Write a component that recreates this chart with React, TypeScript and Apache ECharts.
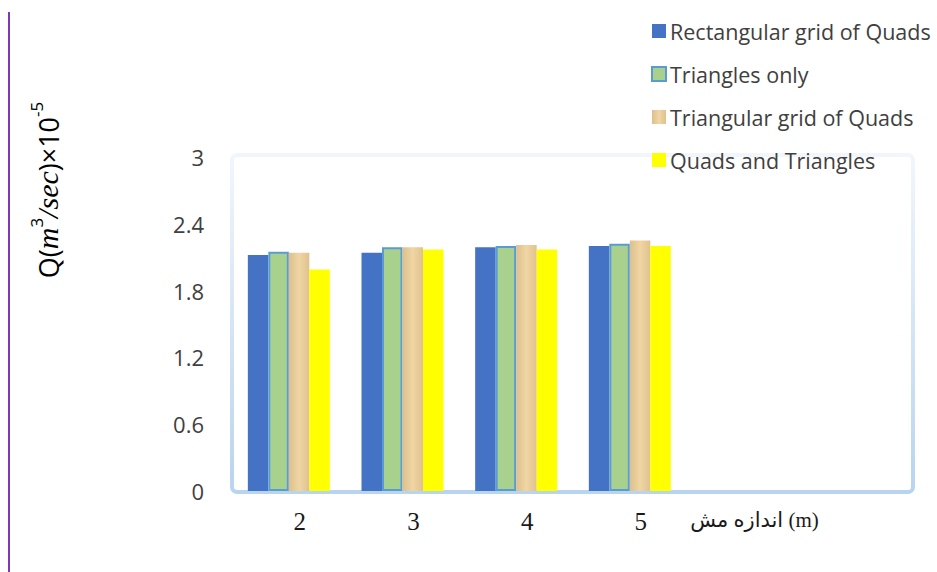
import React, { useEffect, useRef } from "react";
import * as echarts from "echarts";

const categories = ["2", "3", "4", "5", "اندازه مش (m)", ""];
const seriesNames = [
  "Rectangular grid of Quads",
  "Triangles only",
  "Triangular grid of Quads",
  "Quads and Triangles",
];
const rectQuads = [2.12, 2.14, 2.19, 2.2, null, null];
const trianglesOnly = [2.15, 2.19, 2.2, 2.22, null, null];
const triQuads = [2.14, 2.19, 2.21, 2.25, null, null];
const quadsTriangles = [1.99, 2.17, 2.17, 2.2, null, null];
const yTicks = { min: 0, max: 3, interval: 0.6 };

export default function App() {
  const ref = useRef<HTMLDivElement>(null);
  useEffect(() => {
    if (!ref.current) return;
    const chart = echarts.init(ref.current, null, { renderer: "svg" });
    const tan = new echarts.graphic.LinearGradient(0, 0, 1, 0, [
      { offset: 0, color: "#dcc08c" },
      { offset: 0.5, color: "#f0d6a4" },
      { offset: 1, color: "#dfc28e" },
    ]);
    const option: any = {
      animation: false,
      backgroundColor: "#ffffff",
      grid: { left: 232, right: 23, top: 157, bottom: 81, containLabel: false },
      legend: {
        orient: "vertical",
        left: 646,
        top: 15,
        itemWidth: 14,
        itemHeight: 14,
        itemGap: 21,
        icon: "rect",
        textStyle: {
          fontFamily: "Open Sans",
          fontSize: 21.5,
          lineHeight: 22,
          color: "#404040",
          padding: [0, 0, 0, -1],
        },
        data: seriesNames,
      },
      xAxis: {
        type: "category",
        data: categories,
        axisLine: { show: false },
        axisTick: { show: false },
        axisLabel: {
          interval: 0,
          margin: 18,
          padding: [0, 0, 0, 22],
          formatter: (v: string) => (/[\u0600-\u06ff]/.test(v) ? "{p|" + v + "}" : "{d|" + v + "}"),
          rich: {
            d: {
              fontFamily: "Liberation Serif, serif",
              fontSize: 25,
              color: "#1a1a1a",
            },
            p: {
              fontFamily: "Liberation Serif, DejaVu Sans, serif",
              fontSize: 21,
              color: "#1a1a1a",
            },
          },
        },
      },
      yAxis: {
        type: "value",
        min: yTicks.min,
        max: yTicks.max,
        interval: yTicks.interval,
        axisLine: { show: false },
        axisTick: { show: false },
        splitLine: { show: false },
        axisLabel: {
          margin: 28,
          fontFamily: "Open Sans",
          fontSize: 22,
          color: "#404040",
        },
      },
      graphic: [
        {
          type: "line",
          shape: { x1: 9, y1: 12, x2: 9, y2: 572 },
          style: { stroke: "#7a3cb0", lineWidth: 2 },
        },
        {
          type: "rect",
          z: 0,
          shape: { x: 232, y: 155, width: 681, height: 337, r: 5 },
          style: {
            fill: "none",
            lineWidth: 4,
            stroke: new echarts.graphic.LinearGradient(0, 0, 0, 1, [
              { offset: 0, color: "#f1f6fc" },
              { offset: 1, color: "#b9d4ee" },
            ]),
          },
        },
        {
          type: "text",
          x: 45,
          y: 190,
          rotation: Math.PI / 2,
          style: {
            text: "{a|Q(}{i|m}{s|3}{i|/sec}{a|)×10}{s|-5}",
            align: "center",
            verticalAlign: "middle",
            rich: {
              a: { fontFamily: "Open Sans", fontSize: 27, color: "#1a1a1a", lineHeight: 34, verticalAlign: "bottom" },
              i: {
                fontFamily: "Liberation Serif",
                fontStyle: "italic",
                fontSize: 30,
                color: "#1a1a1a",
                lineHeight: 34,
                verticalAlign: "bottom",
              },
              s: { fontFamily: "Open Sans", fontSize: 17, color: "#1a1a1a", lineHeight: 21, verticalAlign: "top" },
            },
          },
        },
      ],
      series: [
        {
          name: seriesNames[0],
          type: "bar",
          data: rectQuads,
          barWidth: 20.5,
          barGap: "0%",
          itemStyle: { color: "#4472c4" },
        },
        {
          name: seriesNames[1],
          type: "bar",
          data: trianglesOnly,
          barWidth: 20.5,
          barGap: "0%",
          itemStyle: { color: "#a9d18e", borderColor: "#5b9bd5", borderWidth: 2 },
        },
        {
          name: seriesNames[2],
          type: "bar",
          data: triQuads,
          barWidth: 20.5,
          barGap: "0%",
          itemStyle: { color: tan },
        },
        {
          name: seriesNames[3],
          type: "bar",
          data: quadsTriangles,
          barWidth: 20.5,
          barGap: "0%",
          itemStyle: { color: "#ffff00" },
        },
      ],
    };
    chart.setOption(option);
    return () => chart.dispose();
  }, []);
  return (
    <div
      ref={ref}
      style={{ position: "fixed", left: 0, top: 0, width: 937, height: 572, background: "#fff" }}
    />
  );
}
